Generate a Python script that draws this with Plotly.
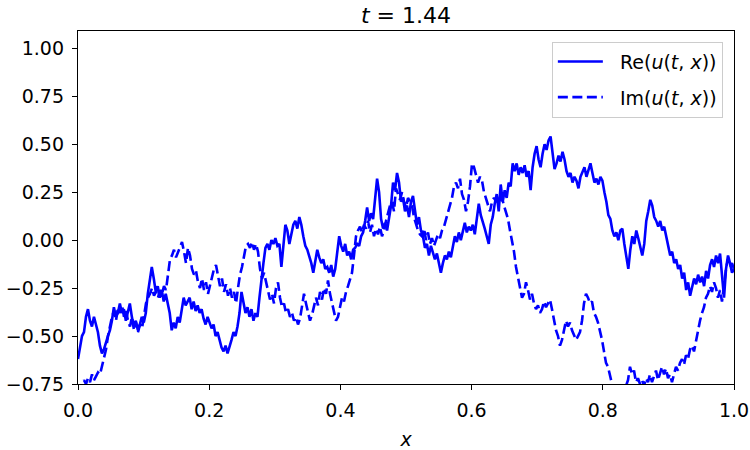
import numpy as np
import plotly.graph_objects as go

# Real part of u(t, x), sampled on an even grid over x in [0, 1]
re_vals = [
    -0.62, -0.55, -0.50, -0.48, -0.40, -0.36, -0.42, -0.45, -0.40, -0.44,
    -0.48, -0.55, -0.59, -0.57, -0.53, -0.50, -0.47, -0.42, -0.35, -0.40,
    -0.38, -0.33, -0.38, -0.36, -0.42, -0.38, -0.33, -0.40, -0.45, -0.42,
    -0.47, -0.44, -0.40, -0.43, -0.38, -0.28, -0.20, -0.14, -0.20, -0.27,
    -0.24, -0.30, -0.26, -0.32, -0.28, -0.33, -0.38, -0.47, -0.43, -0.46,
    -0.40, -0.43, -0.36, -0.30, -0.34, -0.32, -0.30, -0.36, -0.32, -0.37,
    -0.34, -0.38, -0.36, -0.41, -0.44, -0.40, -0.43, -0.46, -0.44, -0.50,
    -0.48, -0.52, -0.56, -0.58, -0.55, -0.59, -0.56, -0.52, -0.48, -0.50,
    -0.45, -0.38, -0.27, -0.32, -0.38, -0.35, -0.40, -0.36, -0.42, -0.38,
    -0.40, -0.30, -0.20, -0.12, -0.04, -0.02, -0.05, 0.00, -0.02, 0.01,
    -0.03, -0.02, -0.14, -0.02, 0.08, 0.05, -0.02, 0.03, 0.08, 0.10,
    0.06, 0.12, 0.08, 0.02, -0.03, -0.05, -0.08, -0.12, -0.17, -0.10,
    -0.05, -0.09, -0.12, -0.10, -0.15, -0.14, -0.17, -0.13, -0.19, -0.15,
    -0.05, 0.02, -0.03, -0.06, -0.02, -0.08, -0.06, -0.10, -0.05, -0.04,
    -0.02, -0.03, 0.02, 0.04, 0.10, 0.17, 0.10, 0.14, 0.11, 0.22,
    0.32, 0.25, 0.11, 0.06, 0.09, 0.05, 0.12, 0.18, 0.30, 0.26,
    0.35, 0.30, 0.20, 0.22, 0.15, 0.18, 0.12, 0.20, 0.23, 0.15,
    0.08, 0.12, 0.05, 0.02, -0.04, -0.02, -0.08, -0.03, -0.06, -0.10,
    -0.07, -0.13, -0.17, -0.12, -0.08, -0.10, -0.06, -0.09, -0.03, 0.02,
    -0.01, 0.04, 0.00, 0.05, 0.09, 0.04, 0.07, 0.05, 0.08, 0.03,
    0.12, 0.19, 0.13, 0.10, 0.06, 0.02, -0.02, 0.08, 0.12, 0.19,
    0.24, 0.15, 0.29, 0.20, 0.26, 0.22, 0.30, 0.28, 0.40, 0.36,
    0.40, 0.34, 0.38, 0.35, 0.39, 0.33, 0.36, 0.26, 0.38, 0.45,
    0.49, 0.42, 0.38, 0.45, 0.50, 0.47, 0.52, 0.54, 0.45, 0.37,
    0.40, 0.44, 0.41, 0.46, 0.42, 0.36, 0.33, 0.35, 0.30, 0.33,
    0.31, 0.27, 0.33, 0.36, 0.38, 0.33, 0.36, 0.40, 0.35, 0.30,
    0.32, 0.29, 0.33, 0.31, 0.25, 0.20, 0.13, 0.11, 0.05, 0.02,
    0.04, 0.00, 0.05, 0.06, -0.02, -0.10, -0.15, -0.05, 0.02, -0.02,
    0.05, 0.01, -0.04, -0.08, -0.02, 0.10, 0.15, 0.21, 0.18, 0.12,
    0.10, 0.07, 0.10, 0.05, 0.07, 0.01, -0.03, -0.08, -0.06, -0.12,
    -0.10, -0.15, -0.13, -0.20, -0.17, -0.26, -0.22, -0.29, -0.24, -0.20,
    -0.23, -0.18, -0.22, -0.19, -0.24, -0.16, -0.20, -0.13, -0.10, -0.14,
    -0.08, -0.12, -0.07, -0.18, -0.30, -0.15, -0.08, -0.12, -0.17, -0.15,
]

# Imaginary part of u(t, x), same grid
im_vals = [
    -0.80, -0.78, -0.76, -0.73, -0.75, -0.72, -0.74, -0.70, -0.73, -0.71,
    -0.69, -0.70, -0.66, -0.62, -0.57, -0.50, -0.45, -0.40, -0.37, -0.42,
    -0.35, -0.38, -0.34, -0.40, -0.37, -0.42, -0.45, -0.40, -0.47, -0.43,
    -0.48, -0.44, -0.46, -0.40, -0.33, -0.30, -0.28, -0.25, -0.29, -0.27,
    -0.30, -0.26, -0.28, -0.24, -0.26, -0.18, -0.10, -0.08, -0.05, -0.09,
    -0.06, -0.03, -0.01, -0.06, -0.12, -0.04, -0.08, -0.15, -0.18, -0.16,
    -0.22, -0.25, -0.20, -0.26, -0.22, -0.28, -0.24, -0.20, -0.15, -0.13,
    -0.18, -0.24, -0.20, -0.27, -0.23, -0.29, -0.25, -0.30, -0.27, -0.33,
    -0.25, -0.18, -0.14, -0.08, -0.03, -0.02, -0.04, -0.01, -0.05, -0.02,
    -0.06, -0.15, -0.20, -0.17, -0.22, -0.27, -0.31, -0.28, -0.33, -0.25,
    -0.22, -0.30, -0.35, -0.33, -0.38, -0.36, -0.40, -0.38, -0.42, -0.40,
    -0.44, -0.41, -0.33, -0.28, -0.33, -0.37, -0.42, -0.39, -0.35, -0.30,
    -0.34, -0.27, -0.31, -0.25, -0.28, -0.21, -0.28, -0.33, -0.38, -0.42,
    -0.40, -0.35, -0.30, -0.32, -0.27, -0.24, -0.20, -0.17, -0.08, 0.02,
    0.05, 0.07, 0.04, 0.08, 0.06, 0.10, 0.04, 0.08, 0.02, 0.06,
    0.03, 0.07, 0.02, 0.05, 0.10, 0.14, 0.18, 0.20, 0.15, 0.27,
    0.24, 0.21, 0.25, 0.20, 0.17, 0.22, 0.20, 0.18, 0.12, 0.08,
    0.05, 0.03, 0.02, 0.06, 0.00, 0.04, -0.02, 0.01, -0.03, 0.00,
    0.03, 0.01, 0.05, 0.07, 0.11, 0.14, 0.18, 0.22, 0.28, 0.30,
    0.27, 0.32, 0.24, 0.21, 0.15, 0.20, 0.28, 0.40, 0.38, 0.34,
    0.30, 0.33, 0.31, 0.25, 0.22, 0.18, 0.15, 0.20, 0.22, 0.20,
    0.23, 0.21, 0.22, 0.18, 0.14, 0.11, 0.05, 0.00, -0.06, -0.14,
    -0.20, -0.26, -0.30, -0.28, -0.22, -0.26, -0.31, -0.28, -0.33, -0.36,
    -0.34, -0.38, -0.36, -0.32, -0.35, -0.33, -0.31, -0.36, -0.42, -0.47,
    -0.50, -0.55, -0.52, -0.46, -0.42, -0.45, -0.43, -0.47, -0.50, -0.52,
    -0.50, -0.48, -0.42, -0.33, -0.28, -0.30, -0.33, -0.32, -0.38, -0.40,
    -0.43, -0.47, -0.52, -0.58, -0.64, -0.66, -0.70, -0.75, -0.80, -0.84,
    -0.86, -0.84, -0.80, -0.78, -0.76, -0.73, -0.66, -0.70, -0.68, -0.74,
    -0.72, -0.75, -0.73, -0.76, -0.72, -0.74, -0.70, -0.74, -0.71, -0.68,
    -0.73, -0.70, -0.66, -0.70, -0.67, -0.72, -0.70, -0.74, -0.70, -0.66,
    -0.68, -0.64, -0.62, -0.65, -0.60, -0.62, -0.57, -0.55, -0.58, -0.52,
    -0.48, -0.42, -0.38, -0.35, -0.30, -0.28, -0.24, -0.27, -0.22, -0.25,
    -0.30, -0.26, -0.32, -0.22, -0.15, -0.10, -0.14, -0.12, -0.15,
]

x_re = np.linspace(0.0, 1.0, len(re_vals))
x_im = np.linspace(0.0, 1.0, len(im_vals))

x_ticks = [0.0, 0.2, 0.4, 0.6, 0.8, 1.0]
y_ticks = [-0.75, -0.50, -0.25, 0.00, 0.25, 0.50, 0.75, 1.00]

FONT = "DejaVu Sans"
BLUE = "#0000ff"
FS = 19

fig = go.Figure()
fig.add_trace(go.Scatter(
    x=x_re, y=re_vals, mode="lines",
    name="  Re(<i>u</i>(<i>t</i>, <i>x</i>))", legendgroup="re",
    line=dict(color=BLUE, width=2.6),
))
fig.add_trace(go.Scatter(
    x=x_im, y=im_vals, mode="lines",
    name="  Im(<i>u</i>(<i>t</i>, <i>x</i>))", legendgroup="im",
    line=dict(color=BLUE, width=2.6, dash="10px,4.5px"),
))

axis_common = dict(
    showline=True, linecolor="black", linewidth=1.3, mirror=True,
    ticks="outside", ticklen=5, tickwidth=1.3, tickcolor="black",
    showgrid=False, zeroline=False, ticklabelstandoff=4, automargin=False,
    tickfont=dict(family=FONT, size=FS, color="black"),
)

fig.update_layout(
    width=750, height=450,
    margin=dict(l=78, r=16, t=31, b=66),
    paper_bgcolor="white", plot_bgcolor="white",
    font=dict(family=FONT, size=FS, color="black"),
    title=dict(text="<i>t</i> = 1.44", x=0.5, xref="paper",
               y=0.967, yanchor="middle", automargin=False,
               font=dict(family=FONT, size=22, color="black")),
    xaxis=dict(range=[0, 1], tickvals=x_ticks, tickformat=".1f",
               title=dict(text="<i>x</i>", font=dict(family=FONT, size=FS), standoff=12),
               **axis_common),
    yaxis=dict(range=[-0.75, 1.09], tickvals=y_ticks, tickformat=".2f",
               **axis_common),
    legend=dict(x=0.983, y=0.970, xanchor="right", yanchor="top",
                bgcolor="rgba(255,255,255,0.8)", bordercolor="#cccccc", borderwidth=1,
                font=dict(family=FONT, size=FS, color="black"),
                itemwidth=45, traceorder="grouped", tracegroupgap=8),
    showlegend=True,
)

fig.write_html("out.html")
